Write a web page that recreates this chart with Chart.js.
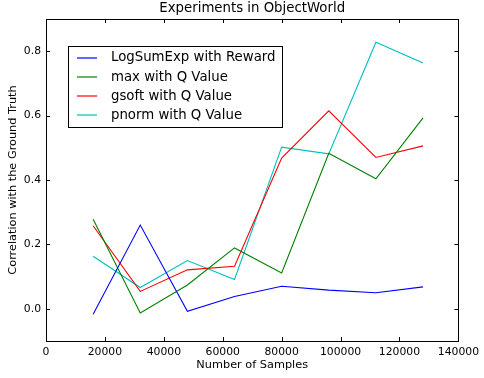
<!DOCTYPE html>
<html>
<head>
<meta charset="utf-8">
<script src="https://cdn.jsdelivr.net/npm/chart.js@4/dist/chart.umd.min.js"></script>
<style>
  html, body { margin: 0; padding: 0; background: #fff; }
  #wrap { width: 484px; height: 378px; }
</style>
</head>
<body>
<div id="wrap"><canvas id="corrChart" width="484" height="378"></canvas></div>
<script>
const samples = [16000, 32000, 48000, 64000, 80000, 96000, 112000, 128000];

const logSumExpReward = [-0.017, 0.260, -0.008, 0.038, 0.070, 0.058, 0.050, 0.068];
const maxQValue = [0.278, -0.013, 0.074, 0.189, 0.111, 0.483, 0.404, 0.593];
const gsoftQValue = [0.258, 0.054, 0.121, 0.132, 0.468, 0.615, 0.470, 0.506];
const pnormQValue = [0.163, 0.066, 0.150, 0.091, 0.502, 0.481, 0.828, 0.763];

const seriesNames = ['LogSumExp with Reward', 'max with Q Value', 'gsoft with Q Value', 'pnorm with Q Value'];
const seriesColors = ['#0000ff', '#008000', '#ff0000', '#00bfbf'];

const xTicks = [0, 20000, 40000, 60000, 80000, 100000, 120000, 140000];
const yTicks = [0.0, 0.2, 0.4, 0.6, 0.8];

const FONT = 'DejaVu Sans';

const toPoints = vals => vals.map((v, i) => ({ x: samples[i], y: v }));

const datasets = [logSumExpReward, maxQValue, gsoftQValue, pnormQValue].map((vals, i) => ({
  label: seriesNames[i],
  data: toPoints(vals),
  borderColor: seriesColors[i],
  backgroundColor: seriesColors[i],
  borderWidth: 1.1,
  pointRadius: 0,
  fill: false,
  tension: 0
}));

// matplotlib-like frame, inward ticks, title and legend box
const framePlugin = {
  id: 'frame',
  afterDatasetsDraw(chart) {
    const { ctx, chartArea: a, scales } = chart;
    ctx.save();
    ctx.strokeStyle = '#000';
    ctx.lineWidth = 1;
    ctx.strokeRect(Math.round(a.left) + 0.5, Math.round(a.top) + 0.5,
      Math.round(a.right - a.left), Math.round(a.bottom - a.top));

    const tl = 4;
    ctx.beginPath();
    scales.x.ticks.forEach(t => {
      const px = Math.round(scales.x.getPixelForValue(t.value)) + 0.5;
      ctx.moveTo(px, a.bottom); ctx.lineTo(px, a.bottom - tl);
      ctx.moveTo(px, a.top); ctx.lineTo(px, a.top + tl);
    });
    scales.y.ticks.forEach(t => {
      const py = Math.round(scales.y.getPixelForValue(t.value)) + 0.5;
      ctx.moveTo(a.left, py); ctx.lineTo(a.left + tl, py);
      ctx.moveTo(a.right, py); ctx.lineTo(a.right - tl, py);
    });
    ctx.stroke();

    // title
    ctx.fillStyle = '#000';
    ctx.font = '13.3px "' + FONT + '"';
    ctx.textAlign = 'center';
    ctx.textBaseline = 'middle';
    ctx.fillText('Experiments in ObjectWorld', (a.left + a.right) / 2, 9);

    // legend
    const lx = 68, ly = 46, lw = 214, lh = 81, rowH = 19.3;
    ctx.fillStyle = '#fff';
    ctx.fillRect(lx, ly, lw, lh);
    ctx.strokeRect(lx + 0.5, ly + 0.5, lw, lh);
    ctx.font = '13.3px "' + FONT + '"';
    ctx.textAlign = 'left';
    chart.data.datasets.forEach((ds, i) => {
      const y = ly + 11.5 + i * rowH;
      ctx.strokeStyle = ds.borderColor;
      ctx.lineWidth = 1.2;
      ctx.beginPath();
      ctx.moveTo(77, Math.round(y));
      ctx.lineTo(97, Math.round(y));
      ctx.stroke();
      ctx.fillStyle = '#000';
      ctx.fillText(ds.label, 111, y + 0.5);
    });
    ctx.restore();
  }
};

const ctx = document.getElementById('corrChart').getContext('2d');
const corrChart = new Chart(ctx, {
  type: 'line',
  data: { datasets },
  plugins: [framePlugin],
  options: {
    responsive: false,
    animation: false,
    layout: { padding: { left: 0, right: 22, top: 19, bottom: 0 } },
    plugins: {
      legend: { display: false },
      title: { display: false },
      tooltip: { enabled: false }
    },
    scales: {
      x: {
        type: 'linear',
        min: 0,
        max: 140000,
        afterBuildTicks: scale => { scale.ticks = xTicks.map(v => ({ value: v })); },
        afterFit: scale => { scale.height = 37; },
        grid: { display: false, drawTicks: false },
        border: { display: false },
        ticks: {
          padding: 5,
          maxRotation: 0,
          autoSkip: false,
          color: '#000',
          font: { family: FONT, size: 10.8 },
          callback: v => String(v)
        },
        title: {
          display: true,
          text: 'Number of Samples',
          color: '#000',
          font: { family: FONT, size: 11.3 },
          padding: { top: 0, bottom: 6 }
        }
      },
      y: {
        min: -0.1,
        max: 0.9,
        afterBuildTicks: scale => { scale.ticks = yTicks.map(v => ({ value: v })); },
        afterFit: scale => { scale.width = 46; },
        grid: { display: false, drawTicks: false },
        border: { display: false },
        ticks: {
          padding: 5,
          color: '#000',
          font: { family: FONT, size: 10.8 },
          callback: v => v.toFixed(1)
        },
        title: {
          display: true,
          text: 'Correlation with the Ground Truth',
          color: '#000',
          font: { family: FONT, size: 11.3 },
          padding: { top: 6, bottom: 0 }
        }
      }
    }
  }
});
</script>
</body>
</html>
